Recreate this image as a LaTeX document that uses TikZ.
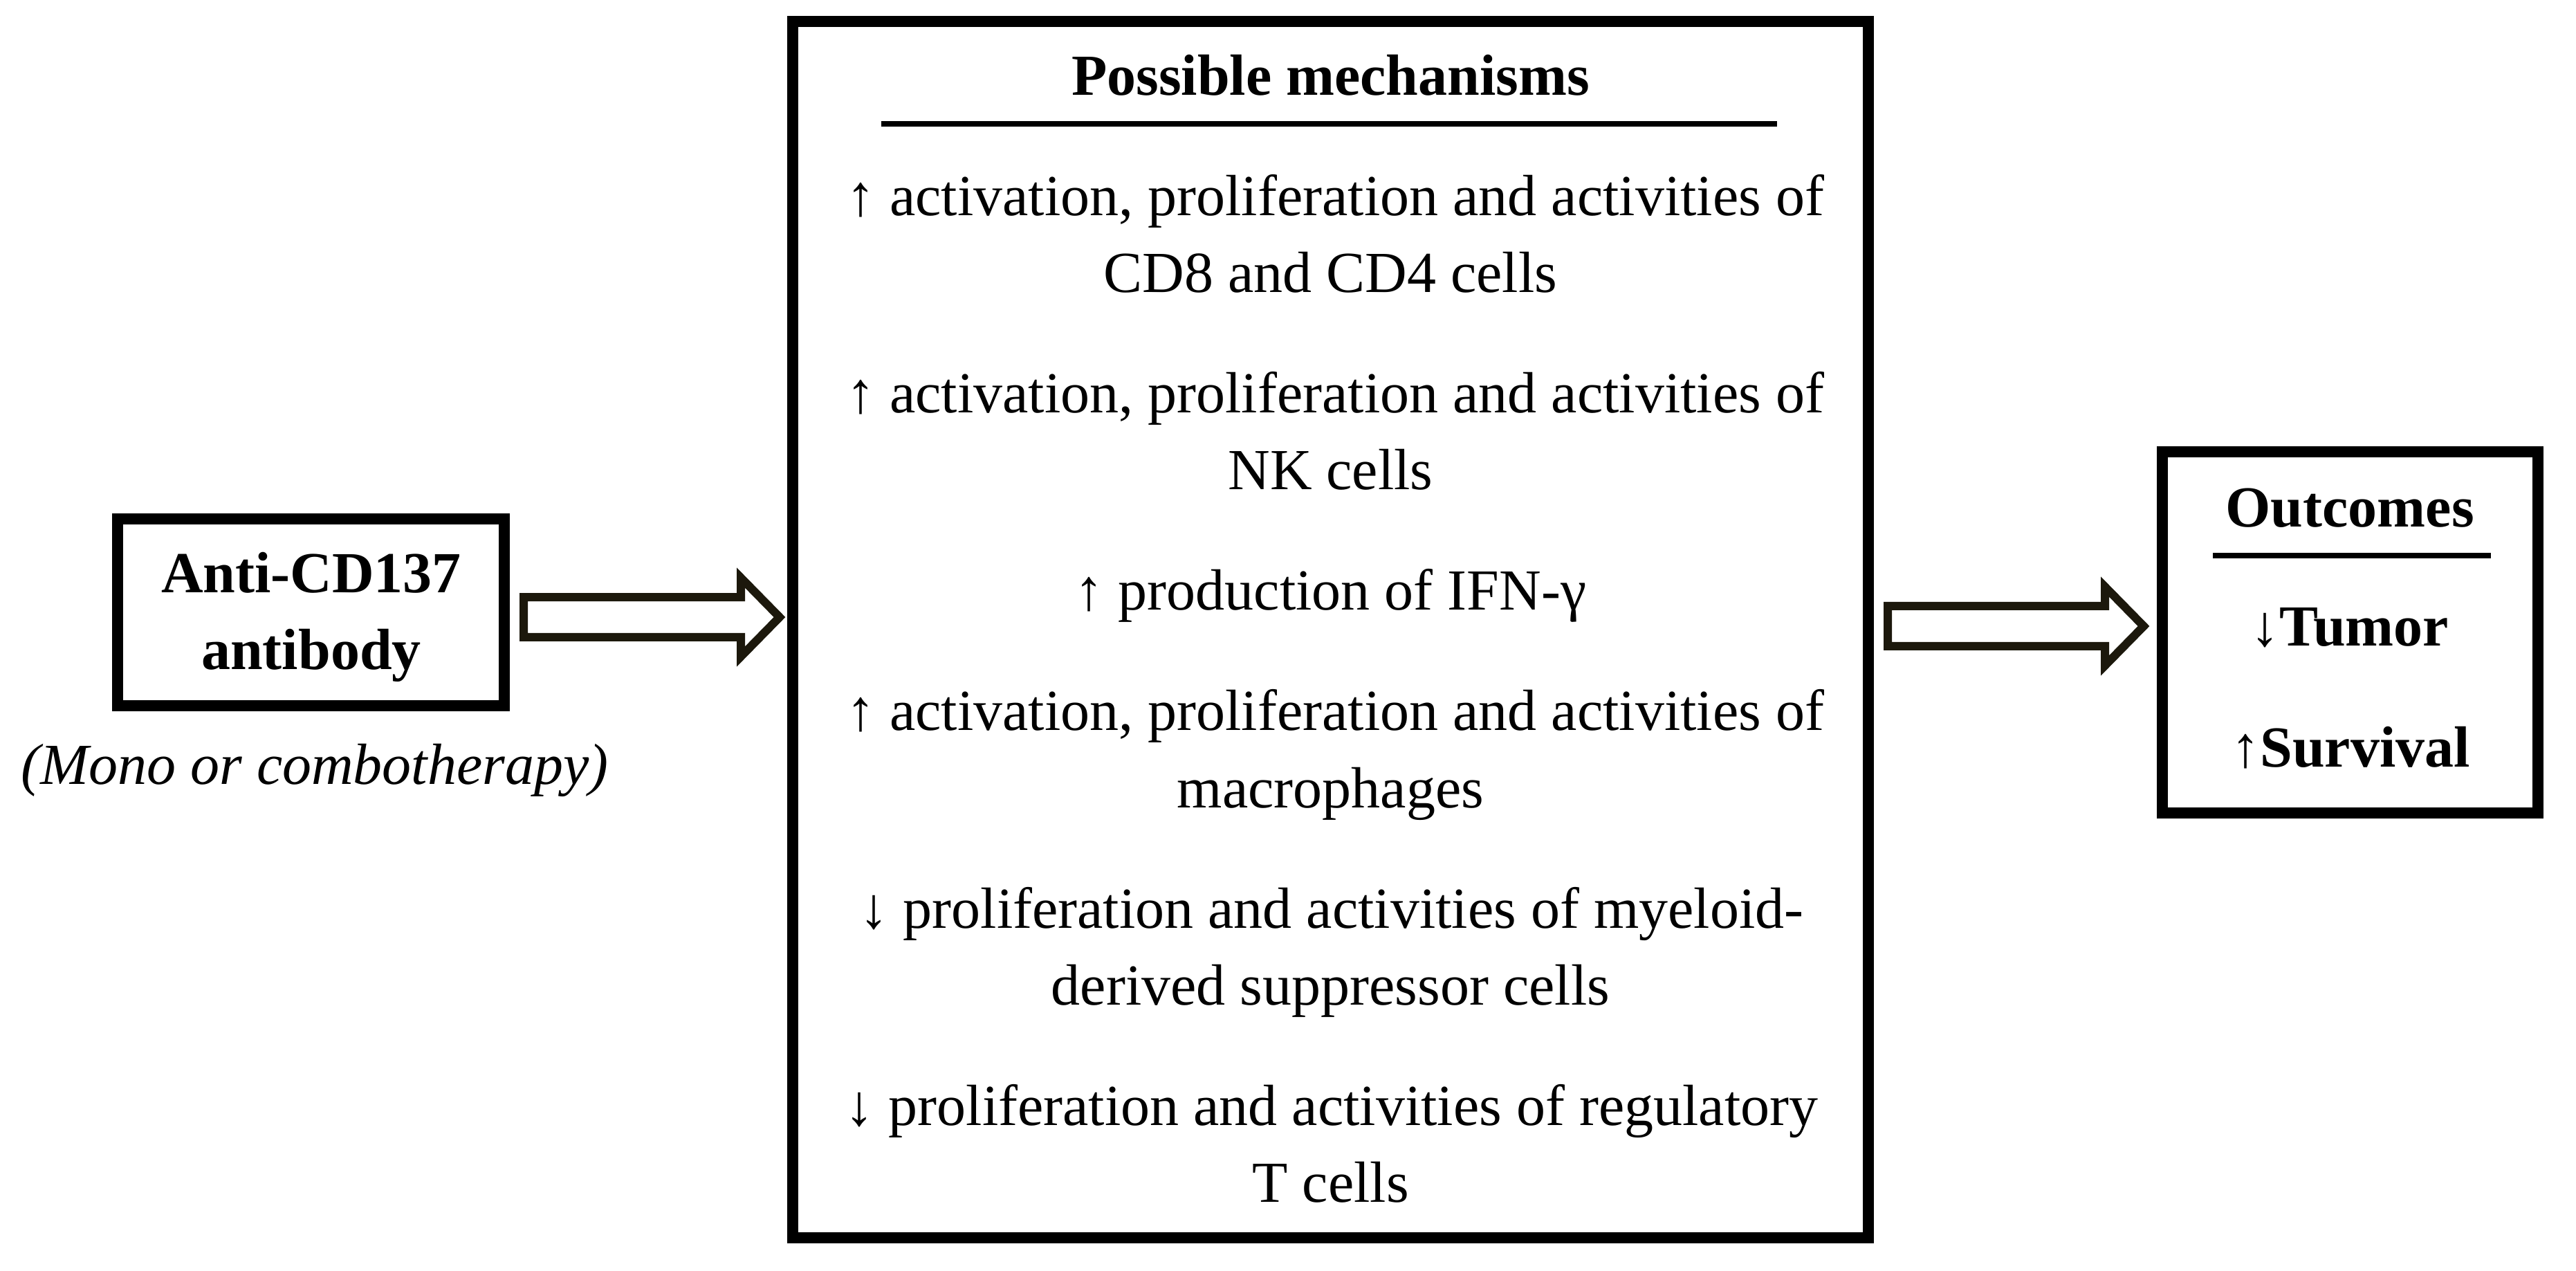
\documentclass[tikz,border=0pt]{standalone}
\usepackage{fontspec}
\setmainfont{Liberation Serif}
\usetikzlibrary{calc}

\definecolor{arrowink}{RGB}{28,24,12}

% a hollow block arrow, from its tail (#1) to its tip (#2)
\newcommand{\blockarrow}[2]{%
  \draw[hollow] ($(#1)+(0,-0.29)$) -- ($(#2)+(-0.56,-0.29)$) -- ($(#2)+(-0.56,-0.57)$)
    -- (#2) -- ($(#2)+(-0.56,0.57)$) -- ($(#2)+(-0.56,0.29)$) -- ($(#1)+(0,0.29)$) -- cycle;}

\begin{document}
\begin{tikzpicture}[x=1cm,y=-1cm,
  frame/.style={draw, line width=0.16cm, inner sep=0pt},
  txt/.style={font=\fontsize{23.9}{28}\selectfont, inner sep=0pt, anchor=base},
  rule/.style={line width=0.08cm},
  hollow/.style={draw=arrowink, line width=0.12cm, line join=miter}]
\useasboundingbox (0,0) rectangle (37.24,18.37);

% the three boxes
\node[frame, minimum width=5.59cm, minimum height=2.70cm] (anti) at (4.495,8.85) {};
\node[frame, minimum width=15.55cm, minimum height=17.58cm] (mech) at (19.235,9.10) {};
\node[frame, minimum width=5.43cm, minimum height=5.22cm] (outc) at (33.975,9.14) {};

% left box
\node[txt] (antiA) at (4.50,8.57) {\textbf{Anti-CD137}};
\node[txt] (antiB) at (4.50,9.68) {\textbf{antibody}};
\node[txt] (mono) at (4.55,11.33) {\textit{(Mono or combotherapy)}};

% middle box
\node[txt] (title) at (19.235,1.38) {\textbf{Possible mechanisms}};
\draw[rule] (12.74,1.79) -- (25.69,1.79);
\node[txt] (m1a) at (19.30,3.12) {↑ activation, proliferation and activities of};
\node[txt] (m1b) at (19.235,4.23) {CD8 and CD4 cells};
\node[txt] (m2a) at (19.30,5.97) {↑ activation, proliferation and activities of};
\node[txt] (m2b) at (19.235,7.08) {NK cells};
\node[txt] (m3) at (19.235,8.82) {↑ production of IFN-γ};
\node[txt] (m4a) at (19.30,10.56) {↑ activation, proliferation and activities of};
\node[txt] (m4b) at (19.235,11.67) {macrophages};
\node[txt] (m5a) at (19.25,13.41) {↓ proliferation and activities of myeloid-};
\node[txt] (m5b) at (19.235,14.52) {derived suppressor cells};
\node[txt] (m6a) at (19.25,16.26) {↓ proliferation and activities of regulatory};
\node[txt] (m6b) at (19.235,17.37) {T cells};

% right box
\node[txt] (otitle) at (33.97,7.62) {\textbf{Outcomes}};
\draw[rule] (31.99,8.03) -- (36.01,8.03);
\node[txt] (tumor) at (33.97,9.34) {↓\textbf{Tumor}};
\node[txt] (surv) at (33.98,11.08) {↑\textbf{Survival}};

% arrows between the boxes
\coordinate (a1) at ($(anti.east)+(0.20,0.07)$);
\coordinate (a2) at ($(anti.east -| mech.west)+(-0.11,0.07)$);
\coordinate (b1) at ($(mech.east)+(0.20,-0.05)$);
\coordinate (b2) at ($(mech.east -| outc.west)+(-0.19,-0.05)$);
\blockarrow{a1}{a2}
\blockarrow{b1}{b2}

\end{tikzpicture}
\end{document}
